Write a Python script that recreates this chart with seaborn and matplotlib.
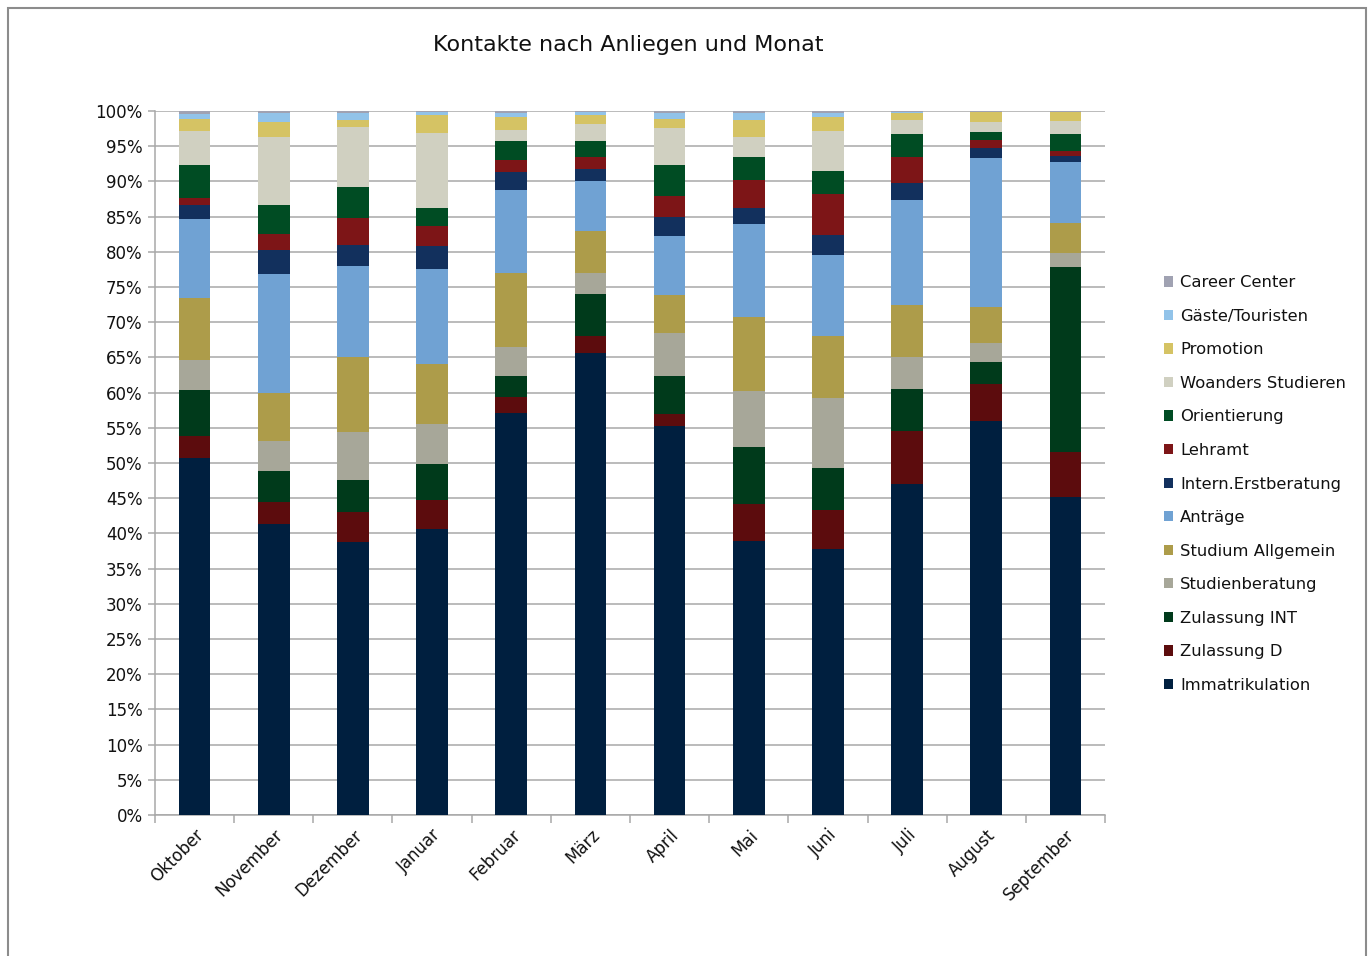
import numpy as np
import pandas as pd
import matplotlib
matplotlib.use("Agg")
import matplotlib.pyplot as plt
import seaborn as sns
from matplotlib.patches import Patch, Rectangle
from matplotlib.ticker import FixedLocator, PercentFormatter

months = ["Oktober", "November", "Dezember", "Januar", "Februar", "März",
          "April", "Mai", "Juni", "Juli", "August", "September"]

# Shares in percent per month (bottom to top)
immatrikulation   = [50.7, 41.3, 38.8, 40.6, 57.1, 65.6, 55.2, 38.9, 37.8, 47.0, 55.9, 45.1]
zulassung_d       = [3.1, 3.1, 4.3, 4.2, 2.3, 2.5, 1.8, 5.3, 5.5, 7.6, 5.3, 6.4]
zulassung_int     = [6.5, 4.5, 4.5, 5.0, 2.9, 5.9, 5.3, 8.1, 6.0, 5.9, 3.2, 26.4]
studienberatung   = [4.4, 4.2, 6.8, 5.7, 4.2, 3.0, 6.1, 7.9, 9.9, 4.6, 2.6, 2.0]
studium_allgemein = [8.8, 6.9, 10.7, 8.6, 10.5, 6.0, 5.5, 10.5, 8.8, 7.3, 5.1, 4.2]
antraege          = [11.2, 16.9, 12.9, 13.5, 11.8, 7.0, 8.4, 13.3, 11.5, 14.9, 21.2, 8.7]
intern_erst       = [2.0, 3.3, 2.9, 3.2, 2.6, 1.8, 2.6, 2.2, 2.9, 2.5, 1.5, 0.8]
lehramt           = [1.0, 2.3, 3.9, 2.8, 1.7, 1.6, 3.0, 4.0, 5.8, 3.6, 1.1, 0.7]
orientierung      = [4.7, 4.2, 4.4, 2.6, 2.6, 2.4, 4.5, 3.2, 3.3, 3.4, 1.1, 2.4]
woanders          = [4.8, 9.6, 8.5, 10.7, 1.6, 2.3, 5.2, 2.9, 5.7, 1.9, 1.5, 1.9]
promotion         = [1.6, 2.2, 1.0, 2.5, 1.9, 1.3, 1.2, 2.4, 1.9, 1.0, 1.3, 1.2]
gaeste            = [0.8, 1.2, 1.0, 0.4, 0.5, 0.4, 0.9, 1.0, 0.6, 0.1, 0.1, 0.1]
career_center     = [0.4, 0.3, 0.3, 0.2, 0.3, 0.2, 0.3, 0.3, 0.3, 0.2, 0.1, 0.1]

series_names = ["Immatrikulation", "Zulassung D", "Zulassung INT", "Studienberatung",
                "Studium Allgemein", "Anträge", "Intern.Erstberatung", "Lehramt",
                "Orientierung", "Woanders Studieren", "Promotion", "Gäste/Touristen",
                "Career Center"]
series_values = [immatrikulation, zulassung_d, zulassung_int, studienberatung,
                 studium_allgemein, antraege, intern_erst, lehramt, orientierung,
                 woanders, promotion, gaeste, career_center]
colors = ["#001F3F", "#5C0C0D", "#003A1B", "#A7A799", "#AD9C4A", "#70A2D3",
          "#12305D", "#7D1517", "#004C23", "#D0D0C1", "#D5C364", "#92C3E9",
          "#A0A2B2"]

df = pd.DataFrame(dict(zip(series_names, series_values)), index=months)
df = df.div(df.sum(axis=1), axis=0) * 100
cum = df.cumsum(axis=1)

sns.set_theme(style="white")
plt.rcParams["font.family"] = ["DejaVu Sans"]

fig = plt.figure(figsize=(13.71, 9.56), dpi=100)
ax = fig.add_axes([155/1371, 1-815/956, (1105-155)/1371, (815-111)/956])

grid_c = "#A8A8A8"
for name, col in reversed(list(zip(series_names, colors))):
    d = pd.DataFrame({"Monat": months, "Wert": cum[name].values})
    sns.barplot(data=d, x="Monat", y="Wert", color=col, width=0.4,
                saturation=1, ax=ax, zorder=3, edgecolor="none", linewidth=0)

ax.set_xlim(-0.5, len(months) - 0.5)
ax.set_ylim(0, 100)
ax.set_xlabel("")
ax.set_ylabel("")
ax.yaxis.set_major_locator(FixedLocator(np.arange(0, 101, 5)))
ax.yaxis.set_major_formatter(PercentFormatter(decimals=0))
ax.grid(axis="y", color=grid_c, linewidth=1.1, zorder=0)
ax.set_axisbelow(True)
for s in ["top", "right"]:
    ax.spines[s].set_visible(False)
for s in ["left", "bottom"]:
    ax.spines[s].set_color(grid_c)
    ax.spines[s].set_linewidth(1.1)

ax.tick_params(axis="y", which="major", direction="out", length=5, width=1.1,
               color=grid_c, left=True, labelsize=12, labelcolor="#111111", pad=4)
ax.xaxis.set_minor_locator(FixedLocator(np.arange(-0.5, len(months), 1.0)))
ax.tick_params(axis="x", which="minor", direction="out", length=6, width=1.1,
               color=grid_c, bottom=True)
ax.tick_params(axis="x", which="major", length=0, labelsize=12,
               labelcolor="#111111", pad=8)
for lab in ax.get_xticklabels():
    lab.set_rotation(45)
    lab.set_ha("right")
    lab.set_rotation_mode("anchor")

fig.text(628/1371, 1-45/956, "Kontakte nach Anliegen und Monat", ha="center",
         va="center", fontsize=16, color="#111111")

handles = [Patch(facecolor=c, edgecolor="none") for c in colors]
leg = fig.legend(handles[::-1], series_names[::-1], loc="center left",
                 bbox_to_anchor=(1157/1371, 1-484/956), frameon=False,
                 fontsize=11.8, handlelength=0.6, handleheight=0.6,
                 handletextpad=0.4, labelspacing=1.13, borderaxespad=0)
for t in leg.get_texts():
    t.set_color("#111111")

fig.patches.append(Rectangle((8/1371, -0.02), (1366-8)/1371, 1.02 - 8/956 + 0.0,
                             transform=fig.transFigure, fill=False,
                             edgecolor="#8C8C8C", linewidth=1.5))

fig.savefig("out.png", dpi=100, facecolor="white")
